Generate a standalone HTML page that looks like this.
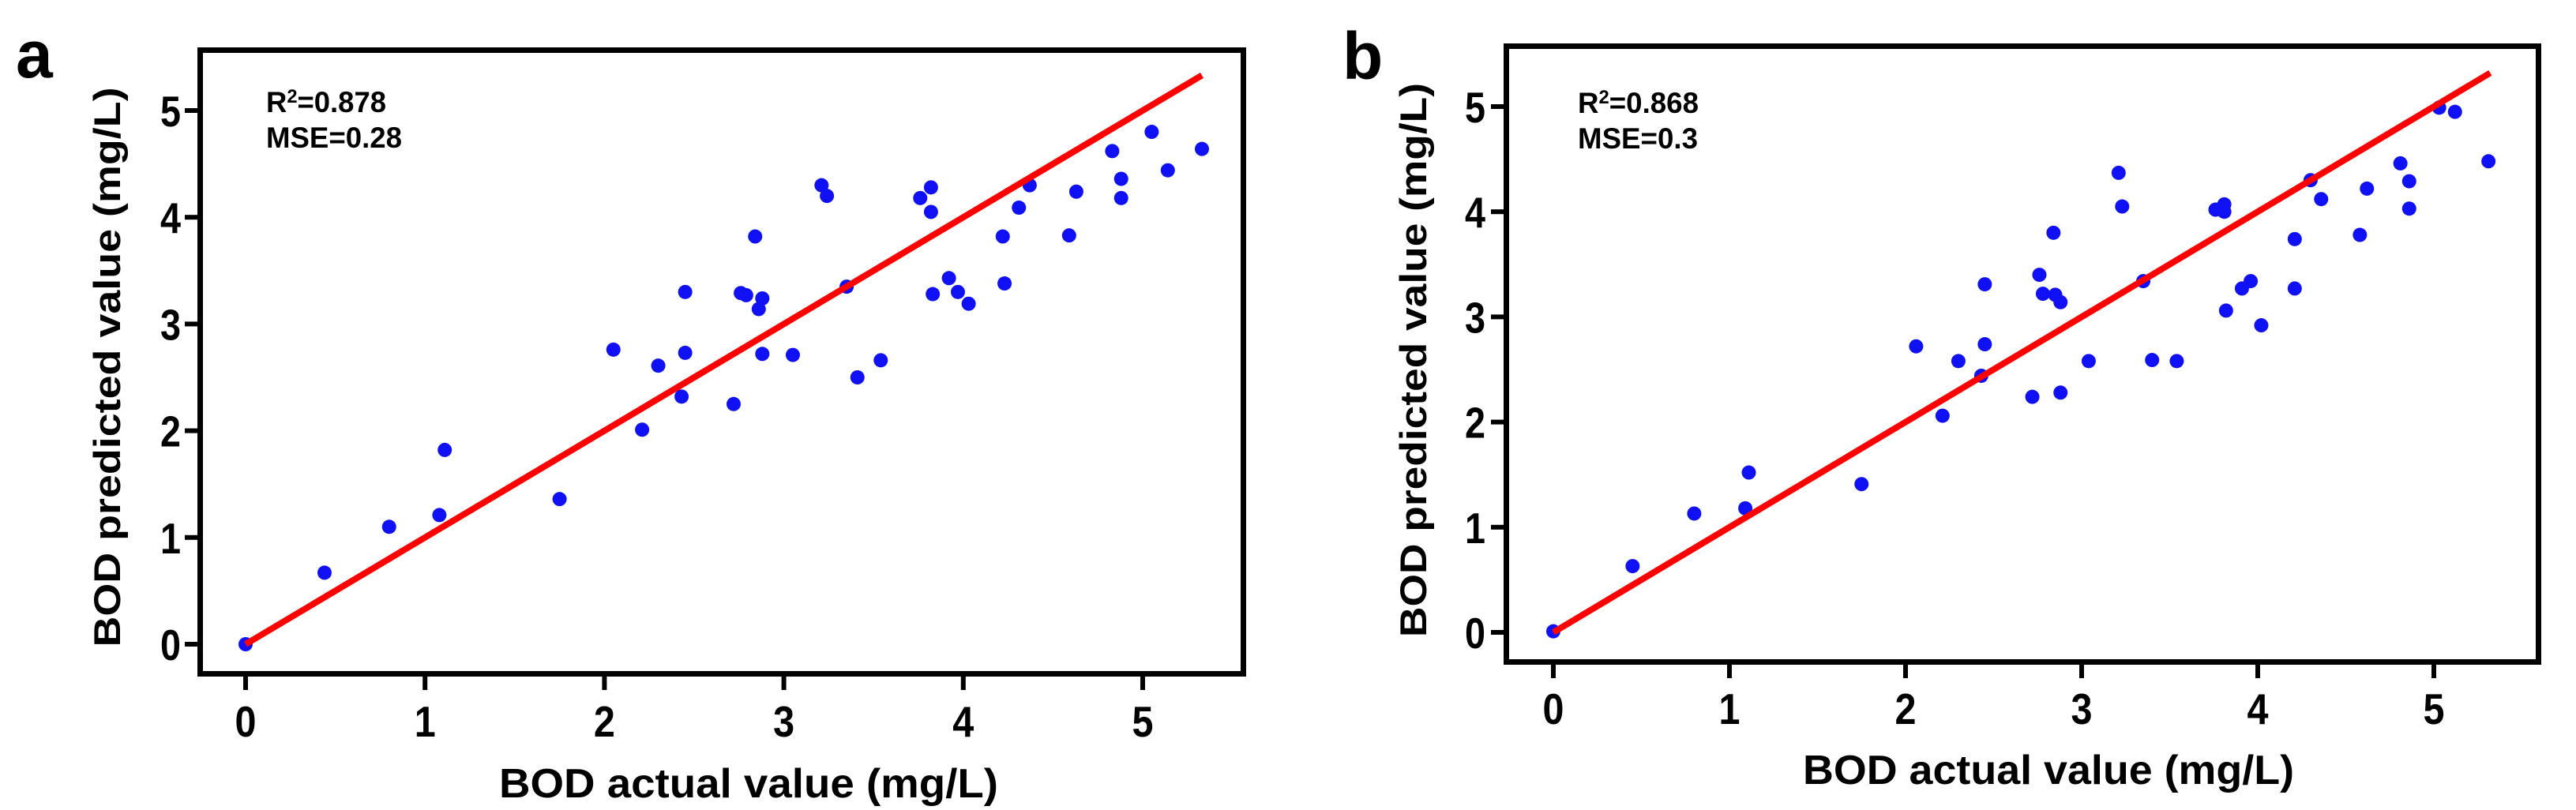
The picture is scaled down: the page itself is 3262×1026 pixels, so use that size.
<!DOCTYPE html>
<html><head><meta charset="utf-8"><style>
html,body{margin:0;padding:0;background:#fff;}
svg{display:block;}
text{font-family:"Liberation Sans",Arial,sans-serif;font-weight:bold;fill:#000;}
</style></head>
<body>
<svg id="fig" width="3262" height="1026" viewBox="0 0 3262 1026" xmlns="http://www.w3.org/2000/svg"></svg>
<script>
// Panel a data
const aActual = [0,0.44,0.80,1.08,1.11,1.75,2.05,2.21,2.30,2.43,2.45,2.45,2.72,2.76,2.79,2.84,2.86,2.88,2.88,3.05,3.21,3.24,3.35,3.41,3.54,3.76,3.82,3.82,3.83,3.92,3.97,4.03,4.22,4.23,4.31,4.37,4.59,4.63,4.83,4.88,4.88,5.05,5.14,5.33];
const aPred = [0,0.67,1.10,1.21,1.82,1.36,2.76,2.01,2.61,2.32,2.73,3.30,2.25,3.29,3.27,3.82,3.14,3.24,2.72,2.71,4.30,4.20,3.35,2.50,2.66,4.18,4.28,4.05,3.28,3.43,3.30,3.19,3.82,3.38,4.09,4.30,3.83,4.24,4.62,4.36,4.18,4.80,4.44,4.64];
// Panel b data
const bActual = [0,0.45,0.80,1.09,1.11,1.75,2.06,2.21,2.30,2.43,2.45,2.45,2.72,2.76,2.78,2.84,2.85,2.88,2.88,3.04,3.21,3.23,3.35,3.40,3.54,3.76,3.81,3.81,3.82,3.91,3.96,4.02,4.21,4.21,4.30,4.36,4.58,4.62,4.81,4.86,4.86,5.03,5.12,5.31];
const bPred = [0.01,0.63,1.13,1.18,1.52,1.41,2.72,2.06,2.58,2.44,2.74,3.31,2.24,3.40,3.22,3.80,3.21,3.14,2.28,2.58,4.37,4.05,3.34,2.59,2.58,4.02,4.07,4.00,3.06,3.27,3.34,2.92,3.74,3.27,4.30,4.12,3.78,4.22,4.46,4.29,4.03,4.99,4.95,4.48];
const tickLabels = ["0","1","2","3","4","5"];
const tickValues = [0,1,2,3,4,5];
const aFit = [0,5.33];
const bFit = [0,5.32];
const aStats = ["R²=0.878","MSE=0.28"];
const bStats = ["R²=0.868","MSE=0.3"];

const NS="http://www.w3.org/2000/svg";
const svg=document.getElementById('fig');
function mk(tag,attrs,parent,txt){const e=document.createElementNS(NS,tag);for(const k in attrs)e.setAttribute(k,attrs[k]);if(txt!==undefined)e.textContent=txt;(parent||svg).appendChild(e);return e;}

function panel(cfg){
  const g=mk('g',{});
  
  
  const sx=v=>cfg.x0+v*cfg.ux;
  const sy=v=>cfg.y0-v*cfg.uy;
  const lbl=mk('text',{x:cfg.lx,y:cfg.ly,'font-size':84},g,cfg.id);
  
  
  const frame=mk('rect',{x:cfg.L+3.5,y:cfg.T+3.5,width:cfg.R-cfg.L-7,height:cfg.B-cfg.T-7,fill:'none',stroke:'#000','stroke-width':7},g);
  
  
  tickValues.forEach((v,i)=>{
    const yt=mk('line',{x1:cfg.L-16,x2:cfg.L,y1:sy(v),y2:sy(v),stroke:'#000','stroke-width':6},g);
    
    
    const yl=mk('text',{x:cfg.ytx,y:sy(v)+20,'font-size':55,'text-anchor':'middle',textLength:26,lengthAdjust:'spacingAndGlyphs'},g,tickLabels[i]);
    
    
    const xt=mk('line',{x1:sx(v),x2:sx(v),y1:cfg.B,y2:cfg.B+17,stroke:'#000','stroke-width':6},g);
    
    
    const xl=mk('text',{x:sx(v),y:cfg.xtb,'font-size':55,'text-anchor':'middle',textLength:27,lengthAdjust:'spacingAndGlyphs'},g,tickLabels[i]);
    
    
  });
  cfg.xs.forEach((v,i)=>{
    const c=mk('circle',{cx:sx(v),cy:sy(cfg.ys[i]),r:9,fill:'#1010f5'},g);
    
    
  });
  const fit=mk('line',{x1:sx(cfg.fit[0]),y1:sy(cfg.fit[0]),x2:sx(cfg.fit[1]),y2:sy(cfg.fit[1]),stroke:'#f00','stroke-width':8},g);
  
  
  cfg.stats.forEach((s,i)=>{
    const t=mk('text',{x:cfg.sx,y:cfg.sb+i*45,'font-size':37,textLength:cfg.sw[i],lengthAdjust:'spacingAndGlyphs'},g);
    
    
    if(i===0){
      mk('tspan',{},t,'R');
      mk('tspan',{'font-size':24,dy:-12},t,'2');
      mk('tspan',{dy:12},t,s.slice(2));
    } else t.textContent=s;
  });
  const yT=mk('text',{x:0,y:0,'font-size':47,'text-anchor':'middle',textLength:cfg.ytl,lengthAdjust:'spacingAndGlyphs',transform:`translate(${cfg.ytX},${cfg.ytY}) rotate(-90)`},g,'BOD predicted value (mg/L)');
  
  
  const xT=mk('text',{x:cfg.xtX,y:cfg.xtY,'font-size':52,'text-anchor':'middle',textLength:cfg.xtl,lengthAdjust:'spacingAndGlyphs'},g,'BOD actual value (mg/L)');
  
  
}

panel({id:'a',lx:20,ly:98,L:250,T:60,R:1578,B:857,x0:311,ux:227.2,y0:816,uy:135.2,
  ytx:216,xtb:933,fit:aFit,xs:aActual,ys:aPred,stats:aStats,sx:337,sb:142,sw:[152,172],
  ytl:709,ytX:152,ytY:465,xtX:948,xtY:1010,xtl:632});
panel({id:'b',lx:1700,ly:100,L:1904,T:55,R:3218,B:842,x0:1967,ux:223,y0:801,uy:133.2,
  ytx:1868,xtb:917,fit:bFit,xs:bActual,ys:bPred,stats:bStats,sx:1998,sb:143,sw:[153,152],
  ytl:702,ytX:1806,ytY:456,xtX:2594,xtY:993,xtl:622});
</script>
</body></html>
